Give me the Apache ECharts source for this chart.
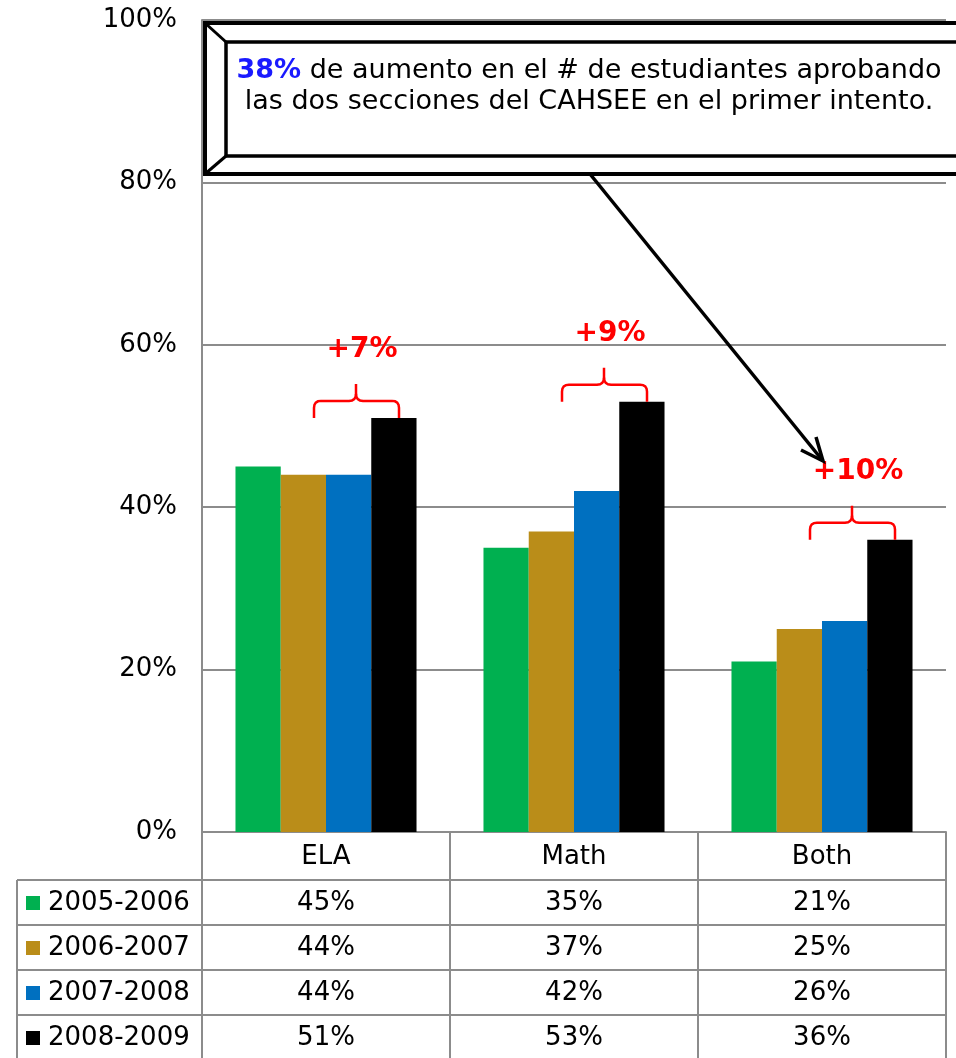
<!DOCTYPE html>
<html>
<head>
<meta charset="utf-8">
<script src="https://cdn.jsdelivr.net/npm/echarts@6/dist/echarts.min.js"></script>
<style>
  html, body { margin: 0; padding: 0; background: #fff; }
  #chart { width: 956px; height: 1058px; }
</style>
</head>
<body>
<div id="chart"></div>
<script>
const categories = ['ELA', 'Math', 'Both']
const seasons = ['2005-2006', '2006-2007', '2007-2008', '2008-2009']
const values0506 = [45, 35, 21]
const values0607 = [44, 37, 25]
const values0708 = [44, 42, 26]
const values0809 = [51, 53, 36]
const gains = ['+7%', '+9%', '+10%']
const yMin = 0
const yMax = 100
const yStep = 20

const seriesValues = [values0506, values0607, values0708, values0809]
const colors = ['#00B050', '#BA8D19', '#0070C0', '#000000']
const font = 'DejaVu Sans'
const gray = '#8c8c8c'

const chart = echarts.init(document.getElementById('chart'))

// sample a quadratic curve so the brace corners come out round
function quad (p0, c, p1, n) {
  const pts = []
  for (let i = 1; i <= n; i++) {
    const t = i / n
    pts.push([
      (1 - t) * (1 - t) * p0[0] + 2 * (1 - t) * t * c[0] + t * t * p1[0],
      (1 - t) * (1 - t) * p0[1] + 2 * (1 - t) * t * c[1] + t * t * p1[1]
    ])
  }
  return pts
}

// header row of the data table, then one axis per table row below it
const xAxes = [{
  type: 'category',
  data: categories,
  position: 'bottom',
  offset: 0,
  axisLine: { show: true, lineStyle: { color: gray, width: 2 } },
  axisTick: { show: true, interval: 0, alignWithLabel: false, length: 48, lineStyle: { color: gray, width: 2 } },
  axisLabel: { fontFamily: font, fontSize: 26, color: '#000', margin: 10, lineHeight: 30 },
  splitLine: { show: false }
}]
seriesValues.forEach((vals, i) => {
  xAxes.push({
    type: 'category',
    data: vals.map(v => v + '%'),
    position: 'bottom',
    offset: 48 + 45 * i,
    axisLine: { show: true, lineStyle: { color: gray, width: 2 } },
    axisTick: { show: true, interval: 0, alignWithLabel: false, length: 45, lineStyle: { color: gray, width: 2 } },
    axisLabel: { fontFamily: font, fontSize: 26, color: '#000', margin: 8, lineHeight: 30 },
    splitLine: { show: false }
  })
})

const series = seriesValues.map((vals, i) => ({
  name: seasons[i],
  type: 'bar',
  xAxisIndex: 0,
  data: vals,
  barGap: 0,
  barCategoryGap: '27%',
  itemStyle: { color: colors[i] }
}))

// red braces + gain labels over the last season's bars
series.push({
  type: 'custom',
  xAxisIndex: 0,
  silent: true,
  z: 10,
  data: values0809.map((v, i) => [i, v]),
  encode: { x: 0, y: 1 },
  renderItem (params, api) {
    const p = api.coord([api.value(0), api.value(1)])
    const x0 = p[0] - 12
    const x1 = p[0] + 73
    const xm = p[0] + 30
    const yb = p[1]
    const yh = p[1] - 17
    const yp = p[1] - 34
    const r = 7
    const left = [[x0, yb], [x0, yh + r]]
      .concat(quad([x0, yh + r], [x0, yh], [x0 + r, yh], 4))
      .concat([[xm - r, yh]])
      .concat(quad([xm - r, yh], [xm, yh], [xm, yh - r], 4))
      .concat([[xm, yp]])
    const right = [[xm, yh - r]]
      .concat(quad([xm, yh - r], [xm, yh], [xm + r, yh], 4))
      .concat([[x1 - r, yh]])
      .concat(quad([x1 - r, yh], [x1, yh], [x1, yh + r], 4))
      .concat([[x1, yb]])
    const line = { fill: 'none', stroke: '#FF0000', lineWidth: 2.5 }
    return {
      type: 'group',
      children: [
        { type: 'polyline', shape: { points: left }, style: line },
        { type: 'polyline', shape: { points: right }, style: line },
        {
          type: 'text',
          style: {
            text: gains[params.dataIndex],
            x: xm + 6,
            y: p[1] - 68,
            align: 'center',
            verticalAlign: 'middle',
            fill: '#FF0000',
            font: 'bold 28px "' + font + '"'
          }
        }
      ]
    }
  }
})

const tableLine = { stroke: gray, lineWidth: 2 }
const graphics = [
  { type: 'line', shape: { x1: 17, y1: 880, x2: 17, y2: 1060 }, style: tableLine },
  { type: 'line', shape: { x1: 17, y1: 880, x2: 202, y2: 880 }, style: tableLine },
  { type: 'line', shape: { x1: 17, y1: 925, x2: 202, y2: 925 }, style: tableLine },
  { type: 'line', shape: { x1: 17, y1: 970, x2: 202, y2: 970 }, style: tableLine },
  { type: 'line', shape: { x1: 17, y1: 1015, x2: 202, y2: 1015 }, style: tableLine },
  // bevelled call-out box
  { type: 'rect', z: 100, shape: { x: 205, y: 23, width: 770, height: 151 }, style: { fill: '#fff', stroke: '#000', lineWidth: 4 } },
  { type: 'rect', z: 101, shape: { x: 226, y: 42, width: 750, height: 114 }, style: { fill: '#fff', stroke: '#000', lineWidth: 3.5 } },
  { type: 'line', z: 101, shape: { x1: 205, y1: 23, x2: 226, y2: 42 }, style: { stroke: '#000', lineWidth: 3 } },
  { type: 'line', z: 101, shape: { x1: 205, y1: 174, x2: 226, y2: 156 }, style: { stroke: '#000', lineWidth: 3 } },
  {
    type: 'text',
    z: 102,
    style: {
      text: '{b|38%} de aumento en el # de estudiantes aprobando\nlas dos secciones del CAHSEE en el primer intento.',
      x: 589,
      y: 55,
      align: 'center',
      verticalAlign: 'top',
      fontFamily: font,
      fontSize: 27,
      lineHeight: 31,
      fill: '#000',
      rich: {
        b: { fontFamily: font, fontSize: 27, fontWeight: 'bold', fill: '#1A1AFF', lineHeight: 31 }
      }
    }
  },
  // arrow from the box to the "Both" brace
  { type: 'line', z: 100, shape: { x1: 590, y1: 174, x2: 823, y2: 461 }, style: { stroke: '#000', lineWidth: 3.5 } },
  { type: 'polyline', z: 100, shape: { points: [[801, 450], [823, 461], [816, 437]] }, style: { fill: 'none', stroke: '#000', lineWidth: 3.5 } }
]

const option = {
  animation: false,
  grid: { left: 202, right: 10, top: 20, bottom: 226, containLabel: false },
  legend: {
    data: seasons,
    orient: 'vertical',
    left: 21,
    top: 883,
    icon: 'rect',
    itemWidth: 14,
    itemHeight: 14,
    itemGap: 15,
    textStyle: { fontFamily: font, fontSize: 26, color: '#000', lineHeight: 30, padding: [0, 0, 0, 3] }
  },
  xAxis: xAxes,
  yAxis: {
    type: 'value',
    min: yMin,
    max: yMax,
    interval: yStep,
    axisLine: { show: true, lineStyle: { color: gray, width: 2 } },
    axisTick: { show: false },
    axisLabel: { formatter: '{value}%', fontFamily: font, fontSize: 26, color: '#000', margin: 25 },
    splitLine: { lineStyle: { color: gray, width: 2 } }
  },
  series: series,
  graphic: graphics
}
chart.setOption(option)
</script>
</body>
</html>
